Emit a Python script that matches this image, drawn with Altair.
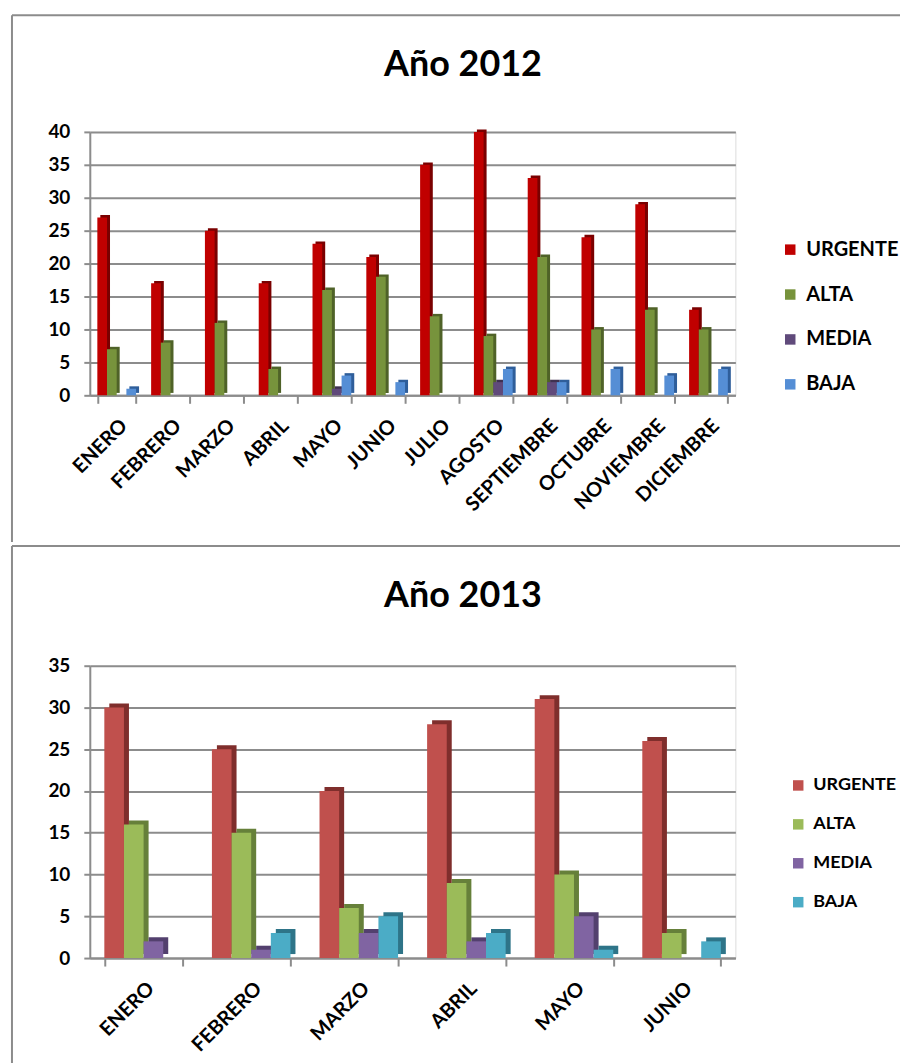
import altair as alt
import pandas as pd

series = ["URGENTE", "ALTA", "MEDIA", "BAJA"]

months_2012 = ["ENERO", "FEBRERO", "MARZO", "ABRIL", "MAYO", "JUNIO", "JULIO",
               "AGOSTO", "SEPTIEMBRE", "OCTUBRE", "NOVIEMBRE", "DICIEMBRE"]
urgente_2012 = [27, 17, 25, 17, 23, 21, 35, 40, 33, 24, 29, 13]
alta_2012 = [7, 8, 11, 4, 16, 18, 12, 9, 21, 10, 13, 10]
media_2012 = [0, 0, 0, 0, 1, 0, 0, 2, 2, 0, 0, 0]
baja_2012 = [1, 0, 0, 0, 3, 2, 0, 4, 2, 4, 3, 4]

months_2013 = ["ENERO", "FEBRERO", "MARZO", "ABRIL", "MAYO", "JUNIO"]
urgente_2013 = [30, 25, 20, 28, 31, 26]
alta_2013 = [16, 15, 6, 9, 10, 3]
media_2013 = [2, 1, 3, 2, 5, 0]
baja_2013 = [0, 3, 5, 3, 1, 2]

colors_2012 = ["#C00000", "#77933C", "#604A7B", "#558ED5"]
dark_2012 = ["#7A0000", "#4F6228", "#3F3151", "#2F5E9A"]
colors_2013 = ["#C0504D", "#9BBB59", "#8064A2", "#4BACC6"]
dark_2013 = ["#7F2E2C", "#66803A", "#53406E", "#2E7488"]

FONT = "Lato"
GRID = "#8C8C8C"


def make_df(months, darks, values):
    rows = []
    for mi, m in enumerate(months):
        for si, s in enumerate(series):
            rows.append({"mes": m, "serie": s, "valor": values[si][mi],
                         "dark": darks[si]})
    return pd.DataFrame(rows)


def panel(title, months, cols, darks, values, ymax, w, h, pad_band,
          depth, legend_x, legend_y, legend_row, legend_size, top_rel,
          bottom_rel, title_y, label_size):
    df = make_df(months, darks, values)
    one = pd.DataFrame({"a": [0]})
    n = len(months)
    step = w / n
    bw = step * (1 - pad_band)
    x = alt.X("mes:N", sort=months, title=None,
              scale=alt.Scale(paddingInner=pad_band, paddingOuter=pad_band / 2),
              axis=alt.Axis(labelAngle=-45, labelFont=FONT, labelFontWeight="bold",
                            labelFontSize=label_size, labelColor="black",
                            labelPadding=12, tickBand="extent", tickSize=8,
                            tickColor=GRID, tickWidth=2, domainColor=GRID,
                            domainWidth=2, grid=False))
    y = alt.Y("valor:Q", title=None,
              scale=alt.Scale(domain=[0, ymax], nice=False),
              axis=alt.Axis(values=list(range(0, ymax + 1, 5)), labelFont=FONT,
                            labelFontWeight="bold", labelFontSize=19,
                            labelColor="black", labelPadding=14, tickSize=6,
                            tickColor=GRID, tickWidth=2, domainColor=GRID,
                            domainWidth=2, gridColor=GRID, gridWidth=2))
    xo_front = alt.XOffset("serie:N", sort=series,
                           scale=alt.Scale(paddingInner=0.0, paddingOuter=0.0,
                                           range=[0, bw]))
    xo_side = alt.XOffset("serie:N", sort=series,
                          scale=alt.Scale(paddingInner=0.0, paddingOuter=0.0,
                                          range=[depth, bw + depth]))
    shadow = alt.Chart(df).mark_bar(yOffset=-depth * 0.8).encode(
        x=x, y=y, xOffset=xo_side, color=alt.Color("dark:N", scale=None))
    front = alt.Chart(df).mark_bar().encode(
        x=x, y=y, xOffset=xo_front,
        color=alt.Color("serie:N", sort=series,
                        scale=alt.Scale(domain=series, range=cols),
                        legend=alt.Legend(title=None, orient="none",
                                          legendX=legend_x, legendY=legend_y,
                                          symbolType="square", symbolSize=110,
                                          symbolStrokeWidth=0,
                                          labelFont=FONT, labelFontSize=legend_size,
                                          labelFontWeight="bold",
                                          labelColor="black",
                                          rowPadding=legend_row, labelOffset=6)))
    left_rule = alt.Chart(one).mark_rule(color="#8C8C8C", strokeWidth=2).encode(
        x=alt.value(-78), y=alt.value(top_rel), y2=alt.value(bottom_rel))
    top_rule = alt.Chart(one).mark_rule(color="#8C8C8C", strokeWidth=2).encode(
        x=alt.value(-78), x2=alt.value(812), y=alt.value(top_rel))
    ttl = alt.Chart(one).mark_text(text=title, font=FONT, fontSize=36,
                                   fontWeight="bold", color="black").encode(
        x=alt.value(374), y=alt.value(title_y))
    return alt.layer(left_rule, top_rule, ttl, shadow, front).resolve_scale(
        xOffset="independent", color="independent"
    ).properties(width=w, height=h)


top = panel("Año 2012", months_2012, colors_2012, dark_2012,
            [urgente_2012, alta_2012, media_2012, baja_2012], 40, 647, 264,
            0.28, 3, 692, 108, 25, 20, -117, 411, -67, 20)
bottom = panel("Año 2013", months_2013, colors_2013, dark_2013,
               [urgente_2013, alta_2013, media_2013, baja_2013], 35, 647, 293,
               0.27, 5, 701, 111, 21, 18, -120, 400, -70, 20)

chart = alt.vconcat(top, bottom, spacing=0).resolve_scale(
    color="independent", xOffset="independent"
).properties(
    padding={"left": 10, "top": 12, "right": 0, "bottom": 0}
).configure_view(stroke=None).configure(background="white")

chart.save("out.html", embed_options={"renderer": "svg", "actions": False})
